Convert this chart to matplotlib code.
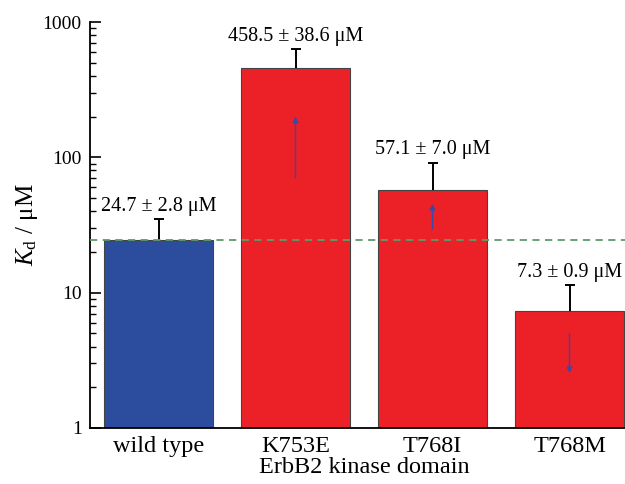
import matplotlib
matplotlib.use("Agg")
import matplotlib.pyplot as plt
import numpy as np

# Data
categories = ["wild type", "K753E", "T768I", "T768M"]
kd_values = [24.7, 458.5, 57.1, 7.3]
kd_err_labels = [2.8, 38.6, 7.0, 0.9]
err_upper = [10.4, 172.0, 34.0, 4.0]          # upper error bars as drawn
arrow_start = [None, 70.0, 29.7, 5.0]
arrow_end = [None, 200.0, 45.3, 2.55]
reference_kd = 24.7
yticks = [1, 10, 100, 1000]

plt.rcParams['font.family'] = ['Liberation Serif', 'DejaVu Serif']
plt.rcParams['mathtext.fontset'] = 'custom'
plt.rcParams['mathtext.rm'] = 'Liberation Serif'
plt.rcParams['mathtext.it'] = 'Liberation Serif:italic'

fig = plt.figure(figsize=(6.25, 4.84), dpi=100)
ax = fig.add_axes([90/625, 56/484, 548/625, 406/484])

x = np.arange(len(categories))
colors = ['#2c4c9e', '#ec2027', '#ec2027', '#ec2027']
ax.bar(x, kd_values, width=0.8, color=colors, edgecolor='#444444', linewidth=0.8, zorder=2)

tops = np.array(kd_values) + np.array(err_upper)
ax.vlines(x, kd_values, tops, color='black', linewidth=1.4, zorder=3)
ax.plot(x, tops, linestyle='none', marker='_', markersize=7, markeredgewidth=1.4,
        color='black', zorder=3)

ax.axhline(reference_kd, color='#5e9a6c', linestyle=(0, (4, 3)), linewidth=1.3, zorder=4)

for i in range(len(x)):
    if arrow_start[i] is not None:
        ax.annotate('', xy=(x[i], arrow_end[i]), xytext=(x[i], arrow_start[i]),
                    arrowprops=dict(arrowstyle='-|>', color='#3a48a8', lw=1.0,
                                    mutation_scale=8, shrinkA=0, shrinkB=0), zorder=5)
    ax.annotate(f"{kd_values[i]} ± {kd_err_labels[i]} μM",
                xy=(x[i], tops[i]), xytext=(0, 6),
                textcoords='offset points', ha='center', va='baseline', fontsize=14.5)

ax.set_yscale('log')
ax.set_ylim(1, 1000)
ax.set_xlim(-0.5, 3.5)
ax.set_yticks(yticks)
ax.set_yticklabels([str(t) for t in yticks])
ax.set_xticks(x)
ax.set_xticklabels(categories)
ax.tick_params(axis='y', which='major', direction='in', length=8, width=1.2, labelsize=14, pad=6)
ax.tick_params(axis='y', which='minor', direction='in', length=4.5, width=1.0)
ax.tick_params(axis='x', length=0, labelsize=17.5, pad=6)

for s in ['top', 'right']:
    ax.spines[s].set_visible(False)
for s in ['left', 'bottom']:
    ax.spines[s].set_linewidth(1.3)

ax.set_xlabel("ErbB2 kinase domain", fontsize=17.5, labelpad=0)
ax.set_ylabel(r"$K_\mathrm{d}$ / μM", fontsize=18, labelpad=2)

fig.savefig("out.png", dpi=100)
